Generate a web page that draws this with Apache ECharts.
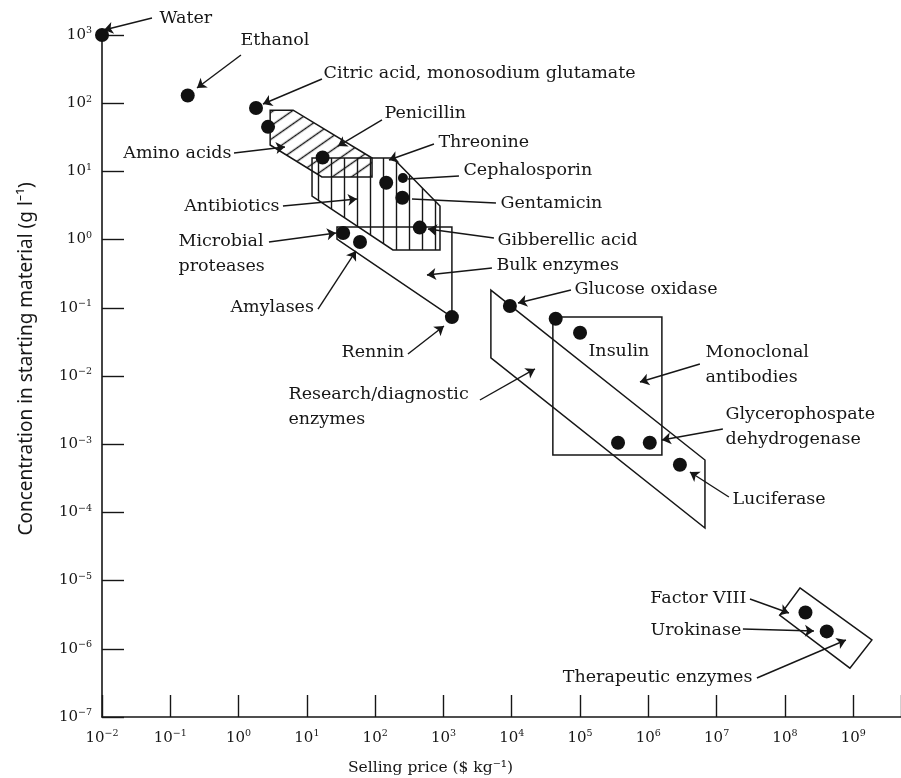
<!DOCTYPE html>
<html>
<head>
<meta charset="utf-8">
<script src="https://cdn.jsdelivr.net/npm/echarts@6/dist/echarts.min.js"></script>
<style>
  html, body { margin: 0; padding: 0; background: #ffffff; }
  #chart { width: 901px; height: 778px; }
</style>
</head>
<body>
<div id="chart"></div>
<script>
// ---- Products: selling price ($/kg) vs concentration in starting material (g/l)
const productNames = [
  'Water', 'Ethanol', 'Citric acid', 'Amino acid', 'Penicillin', 'Threonine',
  'Cephalosporin', 'Gentamicin', 'Gibberellic acid', 'Microbial protease', 'Amylase',
  'Rennin', 'Glucose oxidase', 'Insulin A', 'Insulin B', 'Antibody A', 'Glycerophosphate dehydrogenase',
  'Luciferase', 'Factor VIII', 'Urokinase'
];
const sellingPrice = [
  0.01, 0.18, 1.8, 2.7, 17, 145,
  255, 250, 450, 34, 60,
  1330, 9400, 44000, 100000, 360000, 1050000,
  2900000, 2.0e8, 4.1e8
];
const concentration = [
  1000, 130, 85, 45, 16, 6.8,
  8.0, 4.1, 1.5, 1.25, 0.92,
  0.073, 0.106, 0.069, 0.043, 1.05e-3, 1.05e-3,
  5.0e-4, 3.4e-6, 1.8e-6
];

// ---- Product-group regions: corners as [price, concentration]
const aminoAcidsRegion = [[2.9, 79], [6.3, 79], [90, 15.7], [90, 8.3], [16.6, 8.3], [2.9, 24.4]];
const antibioticsRegion = [[11.9, 15.7], [182, 15.7], [890, 3.1], [890, 0.705], [182, 0.705], [11.9, 4.35]];
const bulkEnzymesRegion = [[27.6, 1.53], [1330, 1.53], [1330, 0.073], [27.6, 1.02]];
const researchEnzymesRegion = [[4950, 0.182], [6.75e6, 5.86e-4], [6.75e6, 5.9e-5], [4950, 0.0184]];
const monoclonalRegion = [[4.0e4, 0.073], [1.58e6, 0.073], [1.58e6, 6.95e-4], [4.0e4, 6.95e-4]];
const therapeuticRegion = [[1.66e8, 7.8e-6], [1.88e9, 1.35e-6], [8.95e8, 5.2e-7], [8.45e7, 3.1e-6]];

// ---- Axis decades (tick labels are 10^n)
const priceDecades = [-2, -1, 0, 1, 2, 3, 4, 5, 6, 7, 8, 9];
const concDecades = [-7, -6, -5, -4, -3, -2, -1, 0, 1, 2, 3];

// ---- Callout layout, in decades: [text, [x, y], side]
const callouts = [
  ['Water', [-1.165, 3.249], 'right'],
  ['Ethanol', [0.02, 2.927], 'right'],
  ['Citric acid, monosodium glutamate', [1.236, 2.443], 'right'],
  ['Penicillin', [2.129, 1.856], 'right'],
  ['Amino acids', [-0.097, 1.27], 'left'],
  ['Threonine', [2.919, 1.431], 'right'],
  ['Cephalosporin', [3.286, 1.021], 'right'],
  ['Antibiotics', [0.606, 0.493], 'left'],
  ['Gentamicin', [3.827, 0.537], 'right'],
  ['Microbial\nproteases', [-0.887, -0.211], 'right'],
  ['Gibberellic acid', [3.783, -0.006], 'right'],
  ['Bulk enzymes', [3.769, -0.372], 'right'],
  ['Amylases', [-0.126, -0.988], 'right'],
  ['Glucose oxidase', [4.911, -0.724], 'right'],
  ['Rennin', [1.499, -1.648], 'right'],
  ['Insulin', [5.116, -1.633], 'right'],
  ['Monoclonal\nantibodies', [6.829, -1.839], 'right'],
  ['Research/diagnostic\nenzymes', [0.723, -2.455], 'right'],
  ['Glycerophospate\ndehydrogenase', [7.122, -2.748], 'right'],
  ['Luciferase', [7.224, -3.804], 'right'],
  ['Factor VIII', [7.444, -5.255], 'left'],
  ['Urokinase', [7.370, -5.724], 'left'],
  ['Therapeutic enzymes', [7.531, -6.413], 'left']
];

// Leader lines, in decades: [from, to, arrowhead]
const leaders = [
  [[-1.268, 3.249], [-1.971, 3.073], true],
  [[0.035, 2.707], [-0.609, 2.223], true],
  [[1.221, 2.355], [0.357, 1.988], true],
  [[2.1, 1.754], [1.455, 1.372], true],
  [[-0.067, 1.27], [0.679, 1.358], true],
  [[2.861, 1.402], [2.202, 1.167], true],
  [[3.227, 0.933], [2.48, 0.889], false],
  [[3.769, 0.537], [2.539, 0.595], false],
  [[3.739, 0.023], [2.773, 0.155], true],
  [[0.65, 0.493], [1.733, 0.595], true],
  [[0.445, -0.035], [1.426, 0.097], true],
  [[1.163, -1.018], [1.719, -0.167], true],
  [[3.71, -0.416], [2.758, -0.519], true],
  [[2.48, -1.677], [3.007, -1.267], true],
  [[3.534, -2.352], [4.34, -1.897], true],
  [[4.867, -0.739], [4.091, -0.93], true],
  [[6.755, -1.824], [5.877, -2.088], true],
  [[7.092, -2.777], [6.199, -2.938], true],
  [[7.18, -3.774], [6.609, -3.408], true],
  [[7.488, -5.27], [8.059, -5.475], true],
  [[7.385, -5.71], [8.425, -5.739], true],
  [[7.59, -6.428], [8.893, -5.871], true]
];

// ---- Styling
const INK = '#161616';
const SERIF = '"DejaVu Serif", "Liberation Serif", serif';
const SANS = '"Noto Sans", "DejaVu Sans", sans-serif';

function hatchTile(size, draw) {
  const c = document.createElement('canvas');
  c.width = size; c.height = size;
  const g = c.getContext('2d');
  g.strokeStyle = INK;
  g.lineWidth = 1.4;
  draw(g, size);
  return c;
}
const verticalHatch = {
  image: hatchTile(13, (g, s) => { g.beginPath(); g.moveTo(s / 2, 0); g.lineTo(s / 2, s); g.stroke(); }),
  repeat: 'repeat'
};
const diagonalHatch = {
  image: hatchTile(11, (g, s) => { g.beginPath(); g.moveTo(0, s / 2); g.lineTo(s, s / 2); g.stroke(); }),
  repeat: 'repeat',
  rotation: -35 * Math.PI / 180
};

const regions = [
  { corners: antibioticsRegion, fill: verticalHatch },
  { corners: aminoAcidsRegion, fill: diagonalHatch },
  { corners: bulkEnzymesRegion, fill: null },
  { corners: researchEnzymesRegion, fill: null },
  { corners: monoclonalRegion, fill: null },
  { corners: therapeuticRegion, fill: null }
];

const toDecades = (p) => [Math.log10(p[0]), Math.log10(p[1])];

function powerLabel(v) {
  const e = Math.round(v);
  if (Math.abs(v - e) > 1e-6) return '';
  return '{b|10}{e|' + String(e).replace('-', '\u2212') + '}';
}
const tickRich = {
  b: { fontFamily: SERIF, fontSize: 15, color: INK, lineHeight: 18 },
  e: { fontFamily: SERIF, fontSize: 9.5, color: INK, lineHeight: 10, verticalAlign: 'top' }
};

const axisCommon = {
  type: 'value',
  interval: 1,
  axisLine: { onZero: false, lineStyle: { color: INK, width: 1.6 } },
  axisTick: { inside: true, length: 22, lineStyle: { color: INK, width: 1.4 } },
  splitLine: { show: false },
  axisLabel: { formatter: powerLabel, rich: tickRich }
};

const chart = echarts.init(document.getElementById('chart'), null, { renderer: 'canvas' });

chart.setOption({
  animation: false,
  backgroundColor: '#ffffff',
  grid: { left: 102, right: 0, top: 35, bottom: 61, containLabel: false, outerBoundsMode: 'none' },
  xAxis: Object.assign({}, axisCommon, {
    min: priceDecades[0],
    max: 9.7,
    axisLabel: Object.assign({}, axisCommon.axisLabel, { margin: 12 }),
    name: 'Selling price ($ kg\u207B\u00B9)',
    nameLocation: 'middle',
    nameGap: 43,
    nameTextStyle: { fontFamily: SERIF, fontSize: 15.5, color: INK, padding: [0, 142, 0, 0] }
  }),
  yAxis: Object.assign({}, axisCommon, {
    min: concDecades[0],
    max: concDecades[concDecades.length - 1],
    axisLabel: Object.assign({}, axisCommon.axisLabel, { margin: 10 }),
    name: 'Concentration in starting material (g l\u207B\u00B9)',
    nameLocation: 'middle',
    nameGap: 66,
    nameRotate: 90,
    nameTextStyle: { fontFamily: SANS, fontSize: 19, color: INK, padding: [0, 0, 0, 34] }
  }),
  series: [
    {
      type: 'custom',
      name: 'regions',
      coordinateSystem: 'cartesian2d',
      silent: true,
      clip: false,
      z: 1,
      data: regions.map(r => toDecades(r.corners[0])),
      renderItem: (params, api) => {
        const r = regions[params.dataIndex];
        const pts = r.corners.map(c => api.coord(toDecades(c)));
        return {
          type: 'polygon',
          shape: { points: pts },
          style: { fill: r.fill || 'none', stroke: INK, lineWidth: 1.5 }
        };
      }
    },
    {
      type: 'lines',
      name: 'arrows',
      coordinateSystem: 'cartesian2d',
      silent: true,
      clip: false,
      z: 2,
      symbol: ['none', 'arrow'],
      symbolSize: 9,
      lineStyle: { color: INK, width: 1.4, opacity: 1 },
      data: leaders.filter(l => l[2]).map(l => ({ coords: [l[0], l[1]] }))
    },
    {
      type: 'lines',
      name: 'leaders',
      coordinateSystem: 'cartesian2d',
      silent: true,
      clip: false,
      z: 2,
      symbol: ['none', 'none'],
      lineStyle: { color: INK, width: 1.4, opacity: 1 },
      data: leaders.filter(l => !l[2]).map(l => ({ coords: [l[0], l[1]] }))
    },
    {
      type: 'scatter',
      name: 'products',
      silent: true,
      clip: false,
      z: 3,
      symbol: 'circle',
      itemStyle: { color: '#111111', opacity: 1 },
      data: productNames.map((n, i) => ({
        name: n,
        value: toDecades([sellingPrice[i], concentration[i]]),
        symbolSize: n === 'Cephalosporin' ? 10 : 14
      }))
    },
    {
      type: 'scatter',
      name: 'callouts',
      silent: true,
      clip: false,
      z: 4,
      symbol: 'circle',
      symbolSize: 1,
      itemStyle: { color: 'rgba(0,0,0,0)', opacity: 1 },
      label: {
        show: true,
        distance: 0,
        formatter: p => p.name,
        fontFamily: SERIF,
        fontSize: 17.5,
        lineHeight: 25,
        color: INK,
        opacity: 1
      },
      data: callouts.map(c => ({
        name: c[0],
        value: c[1],
        label: { position: c[2] }
      }))
    }
  ]
});
</script>
</body>
</html>
